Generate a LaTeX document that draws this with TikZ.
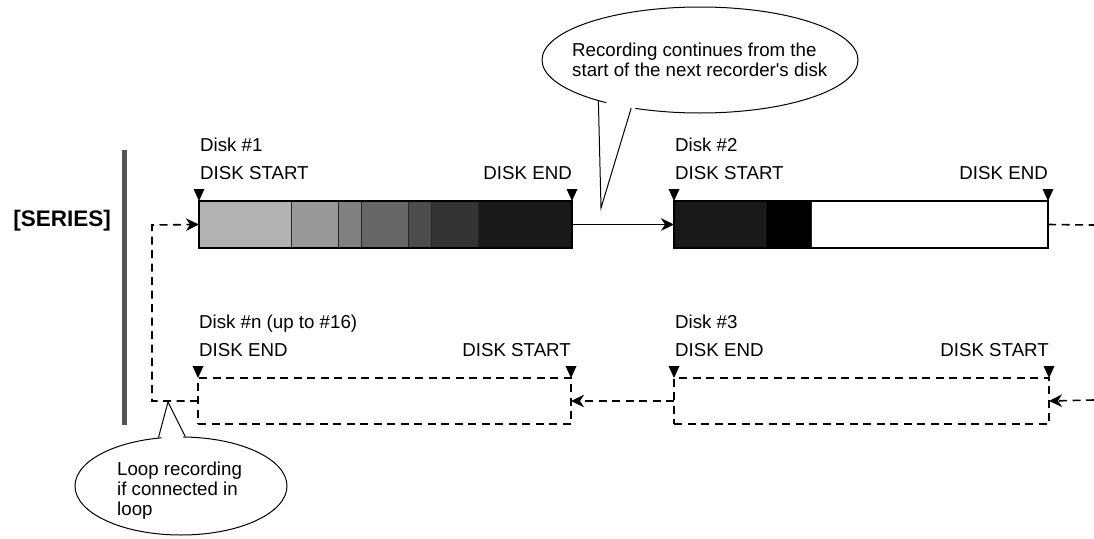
\documentclass[tikz,border=0pt]{standalone}
\usepackage{fontspec}
\setmainfont{Liberation Sans}
\usetikzlibrary{arrows.meta,positioning,calc,shapes.geometric}
\newcommand{\diskmark}[1]{\fill (#1) -- ++(-5.5,-12) -- ++(11,0) -- cycle;}

\begin{document}
\begin{tikzpicture}[
  x=1pt, y=-1pt, >={Stealth[length=13pt,width=12.5pt,inset=4pt]},
  every node/.style={font=\fontsize{18.7}{20}\selectfont, inner sep=0pt},
  disk/.style={draw, line width=1.5pt, anchor=north west, outer sep=0pt, minimum height=47pt},
  dashdisk/.style={disk, dash pattern=on 8pt off 5.5pt, minimum height=46pt},
  lnk/.style={line width=1.6pt},
  dlnk/.style={lnk, dash pattern=on 8pt off 5.5pt},
  balloon/.style={ellipse, draw, fill=white, line width=1pt}
]
  \useasboundingbox (0,0) rectangle (1094,538);

  % recorded parts
  \foreach \xa/\xb/\c in {199/291/30,291/338/40,338/361/50,361/408/60,408/431/70,431/478/80,478/572/90}
    \filldraw[fill=black!\c, draw=black!85, line width=0.8pt] (\xa,201) rectangle (\xb,248);
  \foreach \xa/\xb/\c in {674/765/90,765/811/100}
    \filldraw[fill=black!\c, draw=black!85, line width=0.8pt] (\xa,201) rectangle (\xb,248);

  \node[disk, minimum width=373pt] (d1) at (199,201) {};
  \node[disk, minimum width=374pt] (d2) at (674,201) {};
  \node[dashdisk, minimum width=373pt] (dn) at (198,378) {};
  \node[dashdisk, minimum width=375pt] (d3) at (674,378) {};

  \foreach \d/\name/\l/\r in {d1/{Disk \#1}/{DISK START}/{DISK END},
                              d2/{Disk \#2}/{DISK START}/{DISK END},
                              dn/{Disk \#n (up to \#16)}/{DISK END}/{DISK START},
                              d3/{Disk \#3}/{DISK END}/{DISK START}} {
    \node[anchor=base west] (\d-name) at ($(\d.north west)+(1,-50)$) {\name};
    \node[anchor=base west] (\d-l) at ($(\d.north west)+(1,-21.5)$) {\l};
    \node[anchor=base east] (\d-r) at ($(\d.north east)+(0,-21.5)$) {\r};
    \diskmark{\d.north west}
    \diskmark{\d.north east}
  }

  \node[font=\fontsize{22.5}{26}\selectfont\bfseries, anchor=base east] (series) at (111,226) {[SERIES]};
  \draw[line width=5pt, black!67] (124,150) -- (124,425);

  \coordinate (outR) at (1094,225);
  \coordinate (inR) at (1094,400);
  \coordinate (lp) at (152,225);

  \draw[lnk, ->] (d1.east) -- (d2.west);
  \draw[dlnk] (d2.east) -- (outR);
  \draw[dlnk, ->] (inR) -- (d3.east);
  \draw[dlnk, ->] (d3.west) -- (dn.east);
  \draw[dlnk, ->] (dn.west) -| (lp) -- (d1.west);

  % balloons
  \coordinate (tipT) at (601,208);
  \coordinate (tipL) at (168,402);
  \node[balloon, minimum width=316pt, minimum height=106pt] (cb) at (700,60) {};
  \fill[white] ($(cb.center)!0.92!(cb.202)$) -- (tipT) -- ($(cb.center)!0.92!(cb.215)$) -- cycle;
  \draw[line width=1pt] (cb.202) -- (tipT) -- (cb.215);
  \node[align=left, anchor=west] (cbt) at (572,60) {Recording continues from the\\start of the next recorder\textquotesingle s disk};

  \node[balloon, minimum width=212pt, minimum height=98pt] (cl) at (181,486) {};
  \fill[white] ($(cl.center)!0.9!(cl.115)$) -- (tipL) -- ($(cl.center)!0.9!(cl.85)$) -- cycle;
  \draw[line width=1pt] (cl.115) -- (tipL) -- (cl.85);
  \node[align=left, anchor=west] (clt) at (117,491) {Loop recording\\if connected in\\loop};
\end{tikzpicture}
\end{document}
